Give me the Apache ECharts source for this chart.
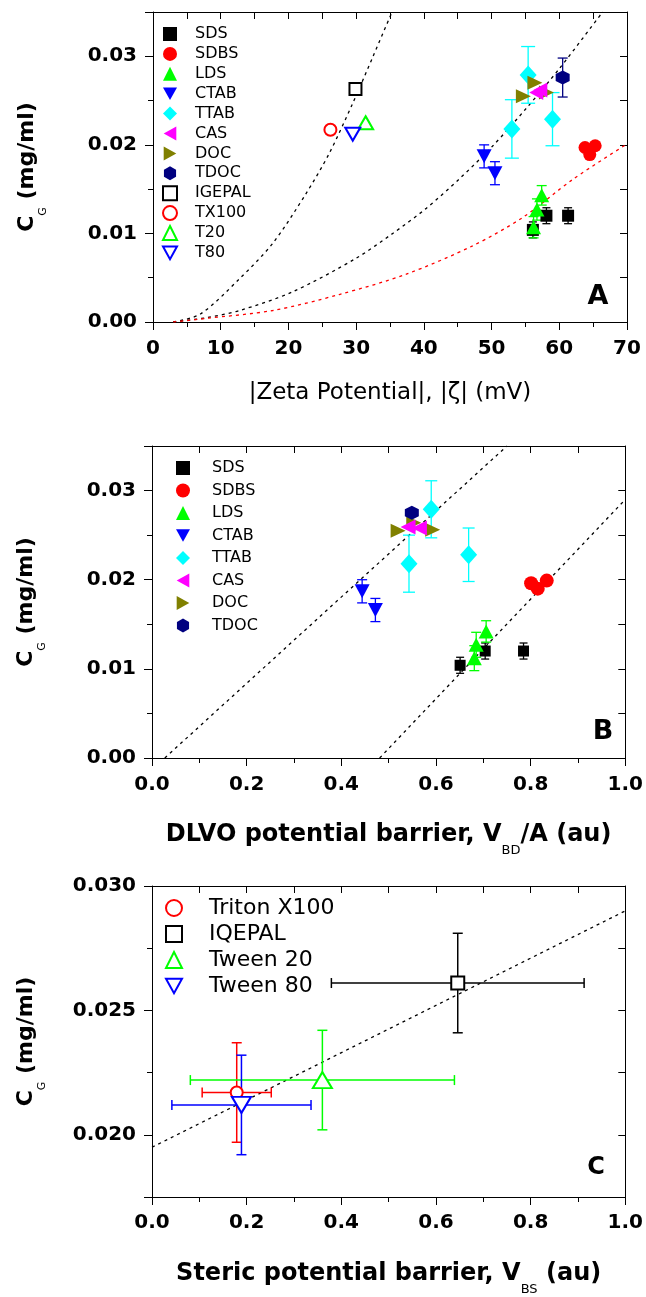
<!DOCTYPE html>
<html><head><meta charset="utf-8">
<script src="https://cdn.jsdelivr.net/npm/echarts@6/dist/echarts.min.js"></script>
<style>html,body{margin:0;padding:0;background:#fff}#c{width:646px;height:1297px}</style>
</head><body><div id="c"></div><script>
// ---------- Panel A: [|zeta| (mV), C_G (mg/ml), C_G error]
const aSDS    = [[56.1,0.0104,0.0009],[58.1,0.0120,0.0009],[61.3,0.0120,0.0009]];
const aSDBS   = [[63.8,0.0197,0],[64.5,0.0189,0],[65.3,0.0199,0]];
const aLDS    = [[56.2,0.0107,0.0012],[56.7,0.0127,0.0012],[57.4,0.0143,0.0011]];
const aCTAB   = [[48.9,0.0187,0.0013],[50.5,0.0168,0.0013]];
const aTTAB   = [[53.0,0.0218,0.0033],[55.4,0.0279,0.0032],[59.0,0.0229,0.0030]];
const aCAS    = [[56.6,0.0259,0],[57.2,0.0262,0]];
const aDOC    = [[54.7,0.0255,0],[56.4,0.0270,0],[58.1,0.0259,0]];
const aTDOC   = [[60.5,0.0276,0.0022]];
const aIGEPAL = [[29.9,0.0263,0]];
const aTX100  = [[26.2,0.0217,0]];
const aT20    = [[31.4,0.0225,0]];
const aT80    = [[29.5,0.0212,0]];
// fitted curves, points
const aFitSteep = [[3,0],[7,0.0009],[12.8,0.0049],[17.7,0.0089],[22.6,0.0145],[26.0,0.0190],[29.5,0.0247],[32.5,0.0300],[35.3,0.0350]];
const aFitMid   = [[3,0],[8,0.0005],[12.8,0.0013],[20.6,0.0034],[30,0.0072],[35.4,0.0100],[40.3,0.0128],[45.3,0.0162],[50.2,0.0199],[55.1,0.0241],[60,0.0286],[66.4,0.0350]];
const aFitRed   = [[3,0],[7.8,0.0004],[17.7,0.0013],[27.5,0.0031],[37.4,0.0054],[47.2,0.0086],[54.6,0.0118],[62,0.0161],[70,0.0201]];

// ---------- Panel B: [V_BD/A (au), C_G, C_G error]
const bSDS  = [[0.651,0.0104,0.0009],[0.704,0.0120,0.0009],[0.785,0.0120,0.0009]];
const bSDBS = [[0.801,0.0196,0],[0.815,0.0190,0],[0.834,0.0199,0]];
const bLDS  = [[0.681,0.0112,0.0014],[0.685,0.0127,0.0014],[0.706,0.0142,0.0012]];
const bCTAB = [[0.444,0.0187,0.0013],[0.472,0.0166,0.0013]];
const bTTAB = [[0.543,0.0218,0.0032],[0.590,0.0279,0.0032],[0.669,0.0228,0.0030]];
const bCAS  = [[0.541,0.0259,0],[0.565,0.0258,0]];
const bDOC  = [[0.520,0.0255,0],[0.553,0.0264,0],[0.593,0.0256,0]];
const bTDOC = [[0.549,0.0275,0]];
const bFitLeft  = [[0.027,0],[0.750,0.035]];
const bFitRight = [[0.481,0],[1.0,0.0290]];

// ---------- Panel C: [V_BS (au), C_G, V_BS error, C_G error]
const cTX100   = [[0.179,0.0217,0.073,0.0020]];
const cIQEPAL  = [[0.646,0.0261,0.267,0.0020]];
const cTween20 = [[0.360,0.0222,0.279,0.0020]];
const cTween80 = [[0.189,0.0212,0.147,0.0020]];
const cFit = [[0,0.0195],[1.0,0.0290]];

// ---------- tick labels
const aXTicks  = [0,10,20,30,40,50,60,70];
const abYTicks = [0,0.01,0.02,0.03];
const bcXTicks = [0,0.2,0.4,0.6,0.8,1.0];
const cYTicks  = [0.020,0.025,0.030];

const legendA = ['SDS','SDBS','LDS','CTAB','TTAB','CAS','DOC','TDOC','IGEPAL','TX100','T20','T80'];
const legendB = ['SDS','SDBS','LDS','CTAB','TTAB','CAS','DOC','TDOC'];
const legendC = ['Triton X100','IQEPAL','Tween 20','Tween 80'];

const FONT = 'DejaVu Sans';
const SYM = {
  sq: 'rect', ci: 'circle', up: 'triangle', dia: 'diamond',
  down: 'path://M0,0L10,0L5,9Z',
  left: 'path://M9,0L9,10L0,5Z',
  right: 'path://M0,0L9,5L0,10Z',
  hex: 'path://M5,0L9.33,2.5L9.33,7.5L5,10L0.67,7.5L0.67,2.5Z'
};
const COL = {k:'#000000', r:'#ff0000', g:'#00ff00', b:'#0000ff', c:'#00ffff', m:'#ff00ff', o:'#808000', n:'#000080'};

const LINE = {color:'#000', width:1};
const LBL = {color:'#000', fontFamily:FONT, fontWeight:'bold', fontSize:20};

function grids() {
  return [
    {left:153, top:12, width:474, height:310},
    {left:152, top:446, width:474, height:312},
    {left:152, top:886, width:475, height:312}
  ];
}

function xAxes(g, c) {
  return [
    {gridIndex:g, type:'value', position:'bottom', min:c.min, max:c.max, interval:c.major,
     axisLine:{show:true, onZero:false, lineStyle:LINE},
     axisTick:{show:true, inside:false, length:8, lineStyle:LINE},
     minorTick:{show:true, splitNumber:2, length:5, lineStyle:LINE},
     axisLabel:Object.assign({customValues:c.labels, formatter:c.fmt, margin:c.margin}, LBL),
     splitLine:{show:false}, minorSplitLine:{show:false},
     name:c.name, nameLocation:'middle', nameGap:c.nameGap, nameTextStyle:c.nameStyle},
    {gridIndex:g, type:'value', position:'top', min:c.min, max:c.max, interval:c.major/2,
     axisLine:{show:true, onZero:false, lineStyle:LINE},
     axisTick:{show:true, inside:true, length:7, lineStyle:LINE},
     axisLabel:{show:false}, splitLine:{show:false}}
  ];
}

function yAxes(g, c) {
  const major = {gridIndex:g, type:'value', position:'left', min:c.min, max:c.max,
     axisLine:{show:true, onZero:false, lineStyle:LINE},
     axisTick:{show:true, inside:false, length:8, lineStyle:LINE, customValues:c.tickVals},
     axisLabel:Object.assign({customValues:c.labels, formatter:c.fmt, margin:16}, LBL),
     splitLine:{show:false},
     name:'{m|C}{s|G}{m| (mg/ml)}', nameLocation:'middle', nameRotate:90, nameGap:104,
     nameTextStyle:{rich:{
       m:{fontFamily:FONT, fontWeight:'bold', fontSize:22, lineHeight:44, verticalAlign:'middle', color:'#000'},
       s:{fontFamily:FONT, fontSize:11, lineHeight:8, verticalAlign:'bottom', color:'#000'}}}};
  if (c.major) major.interval = c.major;
  return [
    major,
    {gridIndex:g, type:'value', position:'left', min:c.min, max:c.max, interval:c.minor,
     axisLine:{show:false, onZero:false}, axisTick:{show:true, inside:false, length:5, lineStyle:LINE},
     axisLabel:{show:false}, splitLine:{show:false}},
    {gridIndex:g, type:'value', position:'right', min:c.min, max:c.max, interval:c.minor,
     axisLine:{show:true, onZero:false, lineStyle:LINE}, axisTick:{show:true, inside:true, length:7, lineStyle:LINE},
     axisLabel:{show:false}, splitLine:{show:false}}
  ];
}

function sc(name, data, sym, size, color, g, open) {
  return {type:'scatter', name:name, data:data.map(d => [d[0], d[1]]), symbol:sym, symbolSize:size,
    xAxisIndex:2*g, yAxisIndex:3*g, z:3, emphasis:{disabled:true}, animation:false,
    itemStyle: open ? {color:'#fff', borderColor:color, borderWidth:2, opacity:1} : {color:color, opacity:1}};
}

function err(data, color, g, cap, lw, xy) {
  return {type:'custom', xAxisIndex:2*g, yAxisIndex:3*g, data:data, silent:true, clip:true, z:2,
    encode:{x:0, y:1},
    renderItem: function (params, api) {
      const x = api.value(0), y = api.value(1);
      const ex = xy ? api.value(2) : 0;
      const ey = xy ? api.value(3) : api.value(2);
      const st = {stroke:color, lineWidth:lw};
      const ch = [];
      const ln = (x1,y1,x2,y2) => ch.push({type:'line', shape:{x1:x1,y1:y1,x2:x2,y2:y2}, style:st});
      if (ey > 0) {
        const p1 = api.coord([x, y + ey]), p2 = api.coord([x, y - ey]);
        ln(p1[0],p1[1],p2[0],p2[1]);
        ln(p1[0]-cap,p1[1],p1[0]+cap,p1[1]);
        ln(p2[0]-cap,p2[1],p2[0]+cap,p2[1]);
      }
      if (ex > 0) {
        const p1 = api.coord([x - ex, y]), p2 = api.coord([x + ex, y]);
        ln(p1[0],p1[1],p2[0],p2[1]);
        ln(p1[0],p1[1]-cap,p1[0],p1[1]+cap);
        ln(p2[0],p2[1]-cap,p2[0],p2[1]+cap);
      }
      return {type:'group', children:ch};
    }};
}

function fit(data, color, g, smooth) {
  return {type:'line', data:data, xAxisIndex:2*g, yAxisIndex:3*g, smooth:smooth, showSymbol:false, symbol:'none',
    silent:true, clip:true, z:1, lineStyle:{color:color, width:1.3, type:[3,4]}};
}

const series = [
  fit(aFitSteep, COL.k, 0, 0.3), fit(aFitMid, COL.k, 0, 0.3), fit(aFitRed, COL.r, 0, 0.3),
  err(aSDS, COL.k, 0, 4, 1.3), err(aLDS, COL.g, 0, 5, 1.3), err(aCTAB, COL.b, 0, 5, 1.3),
  err(aTTAB, COL.c, 0, 7, 1.3), err(aTDOC, COL.n, 0, 5, 1.3),
  sc('SDS', aSDS, SYM.sq, 12, COL.k, 0), sc('SDBS', aSDBS, SYM.ci, 13, COL.r, 0),
  sc('LDS', aLDS, SYM.up, [15,14], COL.g, 0), sc('CTAB', aCTAB, SYM.down, [15,14], COL.b, 0),
  sc('TTAB', aTTAB, SYM.dia, [17,19], COL.c, 0), sc('DOC', aDOC, SYM.right, [15,14], COL.o, 0),
  sc('CAS', aCAS, SYM.left, [14,15], COL.m, 0), sc('TDOC', aTDOC, SYM.hex, 14, COL.n, 0),
  sc('IGEPAL', aIGEPAL, SYM.sq, 12, COL.k, 0, true), sc('TX100', aTX100, SYM.ci, 12, COL.r, 0, true),
  sc('T20', aT20, SYM.up, [15,13], COL.g, 0, true), sc('T80', aT80, SYM.down, [15,13], COL.b, 0, true),

  fit(bFitLeft, COL.k, 1, false), fit(bFitRight, COL.k, 1, false),
  err(bSDS, COL.k, 1, 4, 1.3), err(bLDS, COL.g, 1, 5, 1.3), err(bCTAB, COL.b, 1, 5, 1.3),
  err(bTTAB, COL.c, 1, 6, 1.3),
  sc('SDS', bSDS, SYM.sq, 11, COL.k, 1), sc('SDBS', bSDBS, SYM.ci, 14, COL.r, 1),
  sc('LDS', bLDS, SYM.up, [15,14], COL.g, 1), sc('CTAB', bCTAB, SYM.down, [15,14], COL.b, 1),
  sc('TTAB', bTTAB, SYM.dia, [17,19], COL.c, 1), sc('DOC', bDOC, SYM.right, [15,14], COL.o, 1),
  sc('CAS', bCAS, SYM.left, [15,15], COL.m, 1), sc('TDOC', bTDOC, SYM.hex, 14, COL.n, 1),

  fit(cFit, COL.k, 2, false),
  err(cTX100, COL.r, 2, 5, 1.5, true), err(cIQEPAL, COL.k, 2, 5, 1.5, true),
  err(cTween20, COL.g, 2, 5, 1.5, true), err(cTween80, COL.b, 2, 5, 1.5, true),
  sc('Triton X100', cTX100, SYM.ci, 12, COL.r, 2, true), sc('IQEPAL', cIQEPAL, SYM.sq, 13, COL.k, 2, true),
  sc('Tween 20', cTween20, SYM.up, [19,16], COL.g, 2, true), sc('Tween 80', cTween80, SYM.down, [19,16], COL.b, 2, true)
];

function leg(data, left, top, icon, gap, fs, lh, pad) {
  return {data:data, orient:'vertical', left:left, top:top, itemWidth:icon, itemHeight:icon, itemGap:gap,
    selectedMode:false, padding:0, formatter: n => '{t|' + n + '}',
    textStyle:{rich:{t:{fontFamily:FONT, fontSize:fs, lineHeight:lh, padding:[0,0,0,pad], color:'#000'}}}};
}

const option = {
  animation:false,
  backgroundColor:'#fff',
  grid: grids(),
  xAxis: [].concat(
    xAxes(0, {min:0, max:70, major:10, labels:aXTicks, fmt: v => String(v), margin:17,
      name:'|Zeta Potential|, |ζ| (mV)', nameGap:60,
      nameStyle:{fontFamily:FONT, fontSize:23, color:'#000'}}),
    xAxes(1, {min:0, max:1, major:0.2, labels:bcXTicks, fmt: v => v.toFixed(1), margin:17,
      name:'{m|DLVO potential barrier, V}{s|BD}{m|/A (au)}', nameGap:55,
      nameStyle:{rich:{m:{fontFamily:FONT, fontWeight:'bold', fontSize:24, lineHeight:44, verticalAlign:'middle', color:'#000'},
                       s:{fontFamily:FONT, fontSize:13, lineHeight:8, verticalAlign:'bottom', color:'#000'}}}}),
    xAxes(2, {min:0, max:1, major:0.2, labels:bcXTicks, fmt: v => v.toFixed(1), margin:16,
      name:'{m|Steric potential barrier, V}{s|BS}{m| (au)}', nameGap:55,
      nameStyle:{rich:{m:{fontFamily:FONT, fontWeight:'bold', fontSize:24, lineHeight:44, verticalAlign:'middle', color:'#000'},
                       s:{fontFamily:FONT, fontSize:13, lineHeight:8, verticalAlign:'bottom', color:'#000'}}}})
  ),
  yAxis: [].concat(
    yAxes(0, {min:0, max:0.035, major:0.01, minor:0.005, tickVals:[0,0.01,0.02,0.03,0.035], labels:abYTicks,
      fmt: v => (v > 0.0345 ? '' : v.toFixed(2))}),
    yAxes(1, {min:0, max:0.035, major:0.01, minor:0.005, tickVals:[0,0.01,0.02,0.03,0.035], labels:abYTicks,
      fmt: v => (v > 0.0345 ? '' : v.toFixed(2))}),
    yAxes(2, {min:0.0175, max:0.030, minor:0.0025, tickVals:[0.0175,0.020,0.025,0.030], labels:cYTicks,
      fmt: v => v.toFixed(3)})
  ),
  legend: [
    leg(legendA, 162, 26, 14, 3.9, 16, 18, 13),
    leg(legendB, 176, 460, 14, 6.5, 16, 18, 17),
    leg(legendC, 165, 897, 16, 4, 22, 26, 22)
  ],
  graphic: [
    {type:'text', x:598, y:297, style:{text:'A', fontFamily:FONT, fontWeight:'bold', fontSize:27, fill:'#000', textAlign:'center', textVerticalAlign:'middle', align:'center', verticalAlign:'middle'}},
    {type:'text', x:603, y:732, style:{text:'B', fontFamily:FONT, fontWeight:'bold', fontSize:27, fill:'#000', textAlign:'center', textVerticalAlign:'middle', align:'center', verticalAlign:'middle'}},
    {type:'text', x:596, y:1168, style:{text:'C', fontFamily:FONT, fontWeight:'bold', fontSize:24, fill:'#000', textAlign:'center', textVerticalAlign:'middle', align:'center', verticalAlign:'middle'}}
  ],
  series: series
};

const chart = echarts.init(document.getElementById('c'), null, {renderer:'canvas'});
chart.setOption(option);
</script></body></html>
